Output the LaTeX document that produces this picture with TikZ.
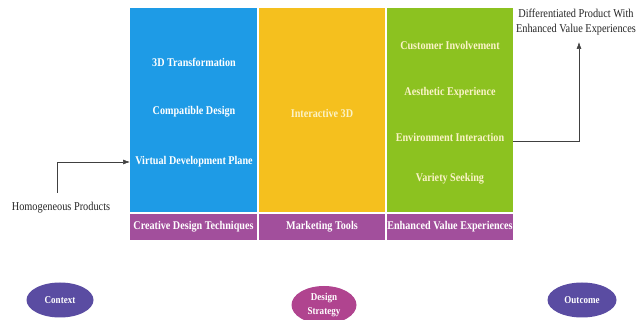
\documentclass[tikz,border=0pt]{standalone}
\usepackage{fontspec}
\setmainfont{Liberation Serif}[FakeStretch=0.86]
\usetikzlibrary{arrows.meta,shapes.geometric}
\definecolor{cblue}{HTML}{1E9BE6}
\definecolor{cyellow}{HTML}{F5C01E}
\definecolor{cgreen}{HTML}{8CC220}
\definecolor{cpurple}{HTML}{A24F9C}
\definecolor{cindigo}{HTML}{5A4CA2}
\definecolor{cmagenta}{HTML}{B0448F}
\definecolor{ltext}{HTML}{FBF3C8}
\begin{document}
\begin{tikzpicture}[x=1pt,y=-1pt,
  colbox/.style={draw=none,anchor=north west,inner sep=0pt,outer sep=0pt},
  wtxt/.style={text=white,font=\fontsize{11.8}{13}\selectfont\bfseries},
  ytxt/.style={text=ltext,font=\fontsize{11.8}{13}\selectfont\bfseries},
  otxt/.style={text=black!85,font=\fontsize{12}{15}\selectfont,align=center},
  oval/.style={ellipse,inner sep=0pt,text=white,font=\fontsize{10.5}{14}\selectfont\bfseries,align=center},
  arr/.style={draw=black!75,line width=0.6pt,-{Latex[length=7pt,width=5pt]}}]
\useasboundingbox[fill=white] (0,0) rectangle (640,320);
% columns
\node[colbox,fill=cblue,minimum width=127pt,minimum height=204pt] (blue) at (130,8) {};
\node[colbox,fill=cyellow,minimum width=126pt,minimum height=204pt] (yellow) at (259,8) {};
\node[colbox,fill=cgreen,minimum width=126pt,minimum height=204pt] (green) at (387,8) {};
% bottom row
\node[colbox,fill=cpurple,minimum width=127pt,minimum height=26pt] (p1) at (130,214) {};
\node[colbox,fill=cpurple,minimum width=126pt,minimum height=26pt] (p2) at (259,214) {};
\node[colbox,fill=cpurple,minimum width=126pt,minimum height=26pt] (p3) at (387,214) {};
\node[wtxt] (p1t) at (p1.center) {Creative Design Techniques};
\node[wtxt] (p2t) at (p2.center) {Marketing Tools};
\node[wtxt] (p3t) at (p3.center) {Enhanced Value Experiences};
% blue texts
\node[wtxt] (b1) at (194,62) {3D Transformation};
\node[wtxt] (b2) at (194,112) {Compatible Design};
\node[wtxt] (b3) at (194,162) {Virtual Development Plane};
% yellow
\node[ytxt] (y1) at (322,113) {Interactive 3D};
% green
\node[ytxt] (g1) at (450,45) {Customer Involvement};
\node[ytxt] (g2) at (450,93) {Aesthetic Experience};
\node[ytxt] (g3) at (450,137) {Environment Interaction};
\node[ytxt] (g4) at (450,179) {Variety Seeking};
% outer texts
\node[otxt] (homo) at (61,208) {Homogeneous Products};
\node[otxt] (diff) at (576,22) {Differentiated Product With\\Enhanced Value Experiences};
\coordinate (hstart) at (57,193);
\coordinate (bin) at (130,162);
\coordinate (gout) at (513,141);
\coordinate (dend) at (579,42);
\draw[arr] (hstart) |- (bin);
\draw[arr] (gout) -| (dend);
% ovals
\node[oval,fill=cindigo,minimum width=67pt,minimum height=35pt] (ctx) at (60,300) {Context};
\node[oval,fill=cmagenta,minimum width=65pt,minimum height=38pt] (ds) at (324,305) {Design\\Strategy};
\node[oval,fill=cindigo,minimum width=69pt,minimum height=35pt] (out) at (582,300) {Outcome};
\end{tikzpicture}
\end{document}
